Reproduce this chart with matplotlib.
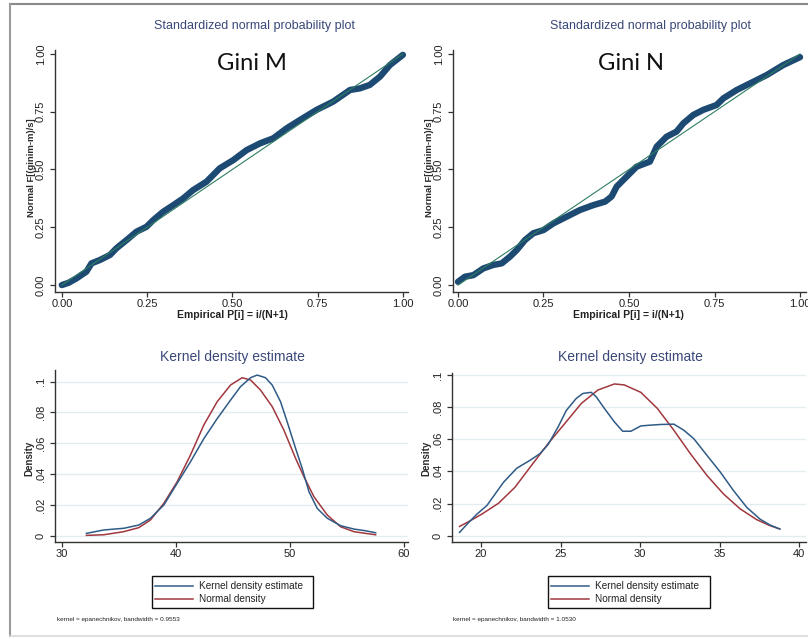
import matplotlib
matplotlib.use('Agg')
import matplotlib.pyplot as plt
from matplotlib.lines import Line2D
from matplotlib.patches import Rectangle

W, H = 808, 639
plt.rcParams['font.family'] = ['Liberation Sans', 'DejaVu Sans']

# ---------------- data ----------------
# Gini M probability plot
gm_p = [0.0, 0.02, 0.043, 0.072, 0.087, 0.111, 0.141, 0.16, 0.19, 0.219, 0.248, 0.268,
        0.297, 0.327, 0.356, 0.385, 0.424, 0.463, 0.503, 0.542, 0.581, 0.62, 0.659,
        0.698, 0.747, 0.796, 0.845, 0.874, 0.903, 0.933, 0.962, 1.0]
gm_f = [0.0, 0.01, 0.029, 0.058, 0.094, 0.108, 0.130, 0.159, 0.195, 0.231, 0.252, 0.281,
        0.317, 0.346, 0.375, 0.411, 0.447, 0.505, 0.541, 0.584, 0.613, 0.635, 0.678,
        0.714, 0.758, 0.794, 0.844, 0.851, 0.866, 0.902, 0.952, 0.996]
# Gini N probability plot
gn_p = [0.0, 0.02, 0.045, 0.074, 0.103, 0.128, 0.152, 0.172, 0.196, 0.22, 0.25, 0.279,
        0.318, 0.357, 0.396, 0.43, 0.449, 0.464, 0.493, 0.522, 0.561, 0.581, 0.61,
        0.639, 0.659, 0.688, 0.717, 0.756, 0.776, 0.815, 0.864, 0.903, 0.951, 1.0]
gn_f = [0.014, 0.036, 0.043, 0.072, 0.087, 0.094, 0.123, 0.152, 0.195, 0.224, 0.238, 0.267,
        0.296, 0.325, 0.346, 0.361, 0.383, 0.426, 0.469, 0.512, 0.534, 0.599, 0.642,
        0.664, 0.700, 0.736, 0.758, 0.779, 0.808, 0.844, 0.880, 0.909, 0.952, 0.986]
ref_line = [0.0, 1.0]

# Kernel density, Gini M
kde_m_x = [32.14, 33.66, 35.41, 36.73, 37.76, 38.93, 40.10, 41.27, 42.44, 43.61, 44.78,
           45.66, 46.54, 47.12, 47.85, 48.44, 49.17, 49.75, 50.49, 51.07, 51.66, 52.39,
           53.27, 54.44, 55.61, 56.63, 57.51]
kde_m_y = [0.0015, 0.0037, 0.0048, 0.0069, 0.0113, 0.0199, 0.034, 0.048, 0.063, 0.076,
           0.088, 0.0968, 0.1026, 0.1043, 0.1026, 0.0978, 0.087, 0.074, 0.0567, 0.0437,
           0.0286, 0.0177, 0.0113, 0.0065, 0.0043, 0.0032, 0.0019]
norm_m_x = [32.14, 33.66, 35.41, 36.73, 37.76, 38.93, 40.10, 41.27, 42.44, 43.61, 44.78,
            45.80, 46.54, 47.41, 48.44, 49.46, 50.49, 51.22, 52.10, 53.27, 54.44, 55.61,
            56.63, 57.51]
norm_m_y = [0.0002, 0.0006, 0.0026, 0.0052, 0.0102, 0.021, 0.035, 0.0524, 0.0719, 0.087,
            0.0978, 0.1026, 0.1011, 0.0946, 0.0838, 0.0686, 0.0502, 0.0383, 0.0253, 0.0134,
            0.0058, 0.0026, 0.0015, 0.0006]

# Kernel density, Gini N
kde_n_x = [18.65, 19.23, 19.75, 20.37, 20.89, 21.42, 22.25, 23.08, 23.70, 24.22, 24.85,
           25.37, 25.99, 26.41, 26.93, 27.24, 27.76, 28.39, 28.91, 29.43, 30.05, 30.68,
           31.30, 32.13, 32.76, 33.38, 34.21, 35.05, 35.88, 36.71, 37.54, 38.17, 38.79]
kde_n_y = [0.0021, 0.0083, 0.0135, 0.0188, 0.026, 0.0333, 0.042, 0.0469, 0.051, 0.0567,
           0.0677, 0.078, 0.0854, 0.0885, 0.0892, 0.0865, 0.0792, 0.0708, 0.065, 0.065,
           0.0683, 0.0688, 0.0692, 0.0694, 0.0656, 0.0604, 0.05, 0.0396, 0.0281, 0.0177,
           0.0104, 0.0067, 0.0042]
norm_n_x = [18.65, 19.23, 20.06, 21.10, 22.14, 23.18, 24.22, 25.27, 26.31, 27.35, 28.39,
            29.01, 30.05, 31.09, 32.13, 33.17, 34.21, 35.25, 36.30, 37.34, 38.17, 38.79]
norm_n_y = [0.0058, 0.0088, 0.0135, 0.0202, 0.0302, 0.0438, 0.0573, 0.0698, 0.0823, 0.0906,
            0.0944, 0.0938, 0.0892, 0.0792, 0.0656, 0.051, 0.0375, 0.026, 0.0167, 0.01,
            0.0063, 0.0042]

prob_ticks = [0.0, 0.25, 0.5, 0.75, 1.0]
prob_ticklabels = ['0.00', '0.25', '0.50', '0.75', '1.00']
dens_ticks = [0.0, 0.02, 0.04, 0.06, 0.08, 0.1]
dens_ticklabels = ['0', '.02', '.04', '.06', '.08', '.1']
m_xticks = [30, 40, 50, 60]
n_xticks = [20, 25, 30, 35, 40]
legend_labels = ['Kernel density estimate', 'Normal density']
notes = ['kernel = epanechnikov, bandwidth = 0.9553',
         'kernel = epanechnikov, bandwidth = 1.0530']

# ---------------- style ----------------
NAVY = '#1d4a72'
KBLUE = '#2f5b86'
RED = '#a0383e'
GREEN = '#2e7d62'
TITLE = '#3a4878'
GRID = '#e3edf0'
AXC = '#333333'

fig = plt.figure(figsize=(W / 100, H / 100), dpi=100)


def ax_at(l, t, r, b):
    return fig.add_axes([l / W, 1 - b / H, (r - l) / W, (b - t) / H])


def txt(x, y, s, **kw):
    fig.text(x / W, 1 - y / H, s, **kw)


def style(ax):
    for s in ['top', 'right']:
        ax.spines[s].set_visible(False)
    for s in ['left', 'bottom']:
        ax.spines[s].set_color(AXC)
        ax.spines[s].set_linewidth(1.0)
    ax.tick_params(axis='both', length=3.6, width=0.9, color=AXC, labelsize=8,
                   labelcolor='#222222')
    ax.tick_params(axis='y', pad=3)
    ax.tick_params(axis='x', pad=1.5)


# outer frame
fig.add_artist(Line2D([10 / W, 1.0], [1 - 4 / H, 1 - 4 / H], color='#8a8a8a', lw=1.5))
fig.add_artist(Line2D([10 / W, 10 / W], [1 - 4 / H, 1 - 636 / H], color='#9a9a9a', lw=1.5))
fig.add_artist(Line2D([10 / W, 1.0], [1 - 636 / H, 1 - 636 / H], color='#d8d8d8', lw=1.2))

# ---------- probability plots ----------
prob_specs = [
    (55, 408, gm_p, gm_f, (-0.02, 1.015), 'Gini M', 255, 252, 232),
    (453, 806, gn_p, gn_f, (-0.0146, 1.0175), 'Gini N', 651, 631, 628),
]
for l, r, px, py, xl, big, tx, bx, lx in prob_specs:
    ax = ax_at(l, 50, r, 292)
    style(ax)
    ax.plot(ref_line, ref_line, color=GREEN, lw=0.8, zorder=3)
    ax.plot(px, py, color=NAVY, lw=4.6, solid_capstyle='round', solid_joinstyle='round',
            zorder=2)
    ax.set_xlim(*xl)
    ax.set_ylim(-0.030, 1.017)
    ax.set_xticks(prob_ticks)
    ax.set_xticklabels(prob_ticklabels)
    ax.set_yticks(prob_ticks)
    ax.set_yticklabels(prob_ticklabels, rotation=90, va='center')
    txt(tx, 26, 'Standardized normal probability plot', fontsize=9, color=TITLE,
        ha='center', va='center')
    txt(bx, 64, big, fontsize=17, family=['Lato', 'DejaVu Sans'], color='#111111',
        ha='center', va='center')
    txt(lx, 314.5, 'Empirical P[i] = i/(N+1)', fontsize=7.5, color='#222222',
        ha='center', va='center', fontweight='bold')
    txt(l - 23, 168, 'Normal F[(ginim-m)/s]', fontsize=6.8, color='#2a2a2a', rotation=90,
        ha='center', va='center', fontweight='bold')

# ---------- kernel density plots ----------
dens_specs = [
    (55, 370, 408, 542, (29.386, 60.35), (-0.0041, 0.1076), m_xticks,
     kde_m_x, kde_m_y, norm_m_x, norm_m_y, 232, 152, 313, 57, notes[0]),
    (452, 372.7, 806, 541.7, (18.176, 40.44), (-0.0037, 0.1014), n_xticks,
     kde_n_x, kde_n_y, norm_n_x, norm_n_y, 630, 548, 710, 453, notes[1]),
]
for (l, t, r, b, xl, yl, xt, kx, ky, nx, ny, tx, lg0, lg1, nt, note) in dens_specs:
    ax = ax_at(l, t, r, b)
    style(ax)
    for v in dens_ticks:
        ax.axhline(v, color=GRID, lw=1.0, zorder=0)
    ax.plot(kx, ky, color=KBLUE, lw=1.1, zorder=3)
    ax.plot(nx, ny, color=RED, lw=1.1, zorder=2)
    ax.set_xlim(*xl)
    ax.set_ylim(*yl)
    ax.set_xticks(xt)
    ax.set_yticks(dens_ticks)
    ax.set_yticklabels(dens_ticklabels, rotation=90, va='center')
    txt(tx, 357, 'Kernel density estimate', fontsize=10, color=TITLE,
        ha='center', va='center')
    txt(l - 26, 458, 'Density', fontsize=7, color='#2a2a2a', rotation=90,
        ha='center', va='center', fontweight='bold')
    # legend box
    fig.add_artist(Rectangle((lg0 / W, 1 - 608 / H), (lg1 - lg0) / W, 32 / H,
                             transform=fig.transFigure, fill=False,
                             edgecolor='#111111', lw=1.0))
    fig.add_artist(Line2D([(lg0 + 3) / W, (lg0 + 41) / W], [1 - 586 / H, 1 - 586 / H],
                          color=KBLUE, lw=1.1))
    fig.add_artist(Line2D([(lg0 + 3) / W, (lg0 + 41) / W], [1 - 599 / H, 1 - 599 / H],
                          color=RED, lw=1.1))
    txt(lg0 + 47, 586, legend_labels[0], fontsize=7.2, color='#222222', va='center')
    txt(lg0 + 47, 599, legend_labels[1], fontsize=7.2, color='#222222', va='center')
    txt(nt, 619, note, fontsize=4.6, color='#222222', va='center')

fig.savefig('out.png', dpi=100, facecolor='white')
